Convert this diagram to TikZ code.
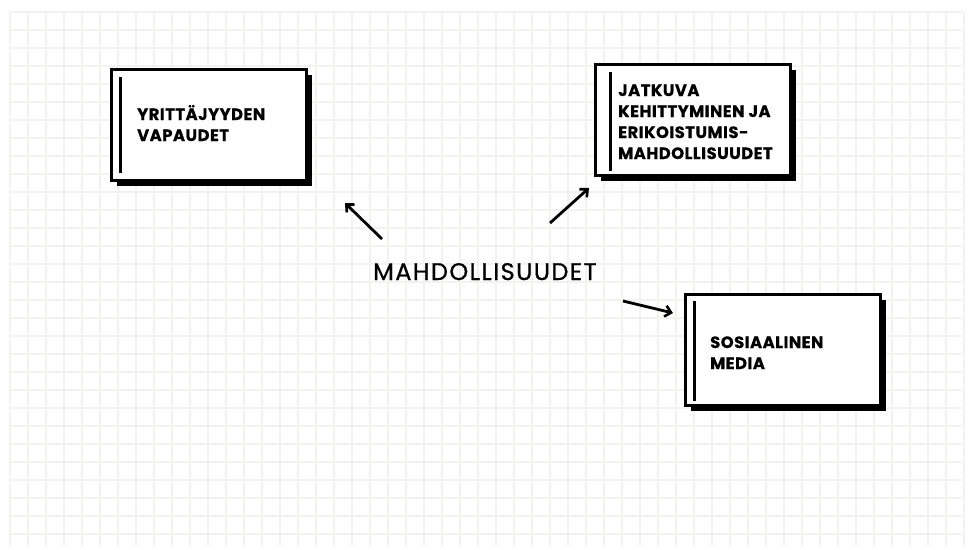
\documentclass[tikz,border=0pt]{standalone}
\usepackage{fontspec}
\setmainfont{Poppins}
\newfontfamily\boxfont{Poppins}[UprightFont=* Bold,LetterSpace=3,FakeBold=0.6]
\newfontfamily\titlefont{Poppins}[LetterSpace=6,FakeBold=0.8]
\usetikzlibrary{arrows.meta,shadows}
\definecolor{gridc}{RGB}{244,241,241}
\begin{document}
\begin{tikzpicture}[x=1pt,y=-1pt,
  card/.style={draw=black,line width=3pt,fill=white,minimum width=195pt,minimum height=111pt,
    inner sep=0pt,drop shadow={shadow xshift=5pt,shadow yshift=-5pt,fill=black,opacity=1}},
  accent/.style={line width=3pt},
  cardtext/.style={anchor=base west,inner sep=0pt,align=left,
    font=\boxfont\fontsize{16.4}{21}\selectfont},
  pointer/.style={line width=2.8pt,-{Straight Barb[length=6pt,width=11pt,line width=2.6pt]}}]
% page and graph paper
\fill[white] (0,0) rectangle (969,549);
\useasboundingbox (0,0) rectangle (969,549);
\foreach \gx in {10,28,...,964} \draw[gridc,line width=1.3pt] (\gx,12) -- (\gx,546);
\foreach \gy in {12,30,...,546} \draw[gridc,line width=1.3pt] (10,\gy) -- (962,\gy);
% cards
\node[card] (c1) at (209,125) {};
\node[card] (c2) at (693,120) {};
\node[card] (c3) at (783,350) {};
\draw[accent] ([xshift=10pt,yshift=-9pt]c1.north west) -- ([xshift=10pt,yshift=9pt]c1.south west);
\draw[accent] ([xshift=16pt,yshift=-9pt]c2.north west) -- ([xshift=16pt,yshift=6pt]c2.south west);
\draw[accent] ([xshift=10pt,yshift=-8pt]c3.north west) -- ([xshift=10pt,yshift=6pt]c3.south west);
% card texts, placed by the baseline of their last line
\node[cardtext] (t1) at (137,141) {YRITTÄJYYDEN\\VAPAUDET};
\node[cardtext] (t2) at (618,159) {JATKUVA\\KEHITTYMINEN JA\\ERIKOISTUMIS-\\MAHDOLLISUUDET};
\node[cardtext] (t3) at (710,369) {SOSIAALINEN\\MEDIA};
% centre word and pointers
\node[anchor=base west,inner sep=0pt,font=\titlefont\fontsize{24}{26}\selectfont] (m) at (373,280) {MAHDOLLISUUDET};
\coordinate (a1s) at (382,239); \coordinate (a1e) at (345,203);
\coordinate (a2s) at (550,223); \coordinate (a2e) at (589,188);
\coordinate (a3s) at (623,301); \coordinate (a3e) at (673,313);
\draw[pointer] (a1s) -- (a1e);
\draw[pointer] (a2s) -- (a2e);
\draw[pointer] (a3s) -- (a3e);
\end{tikzpicture}
\end{document}
